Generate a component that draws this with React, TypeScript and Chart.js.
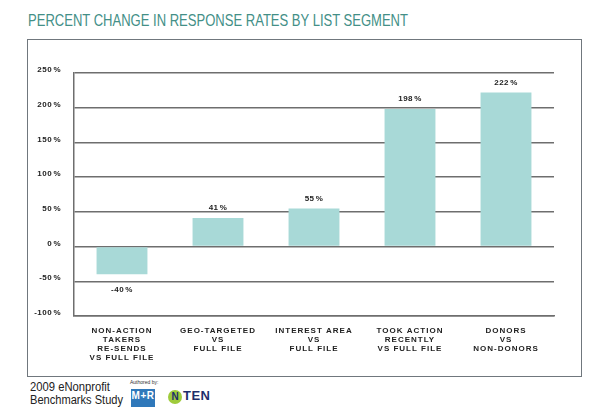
import React, { useEffect, useLayoutEffect, useRef } from "react";
import { Chart, registerables } from "chart.js";

Chart.register(...registerables);

const categories: string[][] = [
  ["NON-ACTION", "TAKERS", "RE-SENDS", "VS FULL FILE"],
  ["GEO-TARGETED", "VS", "FULL FILE"],
  ["INTEREST AREA", "VS", "FULL FILE"],
  ["TOOK ACTION", "RECENTLY", "VS FULL FILE"],
  ["DONORS", "VS", "NON-DONORS"],
];
const values: number[] = [-40, 41, 55, 198, 222];
const yTicks: number[] = [250, 200, 150, 100, 50, 0, -50, -100];

const TITLE = "PERCENT CHANGE IN RESPONSE RATES BY LIST SEGMENT";
const LABEL_FONT = "bold 8px 'Liberation Sans', Arial, sans-serif";

const labelPlugin = {
  id: "customLabels",
  afterDatasetsDraw(chart: any) {
    const ctx = chart.ctx as CanvasRenderingContext2D;
    const x = chart.scales.x;
    const y = chart.scales.y;
    ctx.save();
    (ctx as any).letterSpacing = "0.5px";
    ctx.font = LABEL_FONT;
    ctx.fillStyle = "#222";
    // y tick labels
    ctx.textAlign = "right";
    ctx.textBaseline = "middle";
    yTicks.forEach((v) => {
      const py = y.getPixelForValue(v);
      ctx.fillText(v + "\u200A%", y.right - 13, py - 3);
    });
    // value labels
    ctx.textAlign = "center";
    const meta = chart.getDatasetMeta(0);
    meta.data.forEach((bar: any, i: number) => {
      const v = values[i];
      const txt = v + "\u200A%";
      if (v >= 0) ctx.fillText(txt, bar.x, bar.y - 10);
      else ctx.fillText(txt, bar.x, bar.y + 15);
    });
    // category labels
    (ctx as any).letterSpacing = "1px";
    categories.forEach((lines, i) => {
      const px = x.getPixelForValue(i);
      lines.forEach((ln, j) => {
        ctx.fillText(ln, px, x.top + 15 + j * 9);
      });
    });
    ctx.restore();
  },
};

function useFitWidth(ref: React.RefObject<HTMLElement | null>, target: number) {
  useLayoutEffect(() => {
    const el = ref.current;
    if (el) {
      const w = el.getBoundingClientRect().width;
      if (w > 0) el.style.transform = `scaleX(${target / w})`;
    }
  }, []);
}

export default function App() {
  const canvasRef = useRef<HTMLCanvasElement | null>(null);
  const titleRef = useRef<HTMLSpanElement | null>(null);
  const foot1Ref = useRef<HTMLSpanElement | null>(null);
  const foot2Ref = useRef<HTMLSpanElement | null>(null);
  useFitWidth(titleRef, 380);
  useFitWidth(foot1Ref, 80);
  useFitWidth(foot2Ref, 93);

  useEffect(() => {
    if (!canvasRef.current) return;
    const chart = new Chart(canvasRef.current, {
      type: "bar",
      data: {
        labels: categories.map((c) => c.join(" ")),
        datasets: [
          {
            data: values,
            backgroundColor: "#a8d9d7",
            borderWidth: 0,
            barPercentage: 0.53,
            categoryPercentage: 1,
          },
        ],
      },
      options: {
        animation: false,
        responsive: false,
        devicePixelRatio: 1,
        layout: { padding: { left: 0, right: 26, top: 33, bottom: 0 } },
        plugins: {
          legend: { display: false },
          tooltip: { enabled: false },
          title: { display: false },
        },
        scales: {
          x: {
            grid: { display: false },
            border: { display: true, color: "#6e6e6e", width: 1.5 },
            ticks: { display: false },
            afterFit: (s: any) => {
              s.height = 59;
            },
          },
          y: {
            min: -100,
            max: 250,
            ticks: { display: false, stepSize: 50 },
            grid: { color: "#6e6e6e", lineWidth: 1.5, drawTicks: false },
            border: { display: true, color: "#6e6e6e", width: 1.5 },
            afterFit: (s: any) => {
              s.width = 46;
            },
          },
        },
      },
      plugins: [labelPlugin],
    });
    return () => chart.destroy();
  }, []);

  const footStyle: React.CSSProperties = {
    display: "inline-block",
    transformOrigin: "left center",
  };

  return (
    <div
      style={{
        position: "fixed",
        left: 0,
        top: 0,
        width: 600,
        height: 409,
        background: "#fff",
        overflow: "hidden",
      }}
    >
      <div
        style={{
          position: "absolute",
          left: 28,
          top: 12,
          whiteSpace: "nowrap",
          fontFamily: "'Liberation Sans', Arial, sans-serif",
          fontWeight: 400,
          fontSize: 17,
          lineHeight: "17px",
          color: "#438f87",
        }}
      >
        <span
          ref={titleRef}
          style={{ display: "inline-block", transformOrigin: "left center" }}
        >
          {TITLE}
        </span>
      </div>
      <div
        style={{
          position: "absolute",
          left: 27,
          top: 39,
          width: 555,
          height: 338,
          border: "1px solid #70777d",
          boxSizing: "border-box",
        }}
      />
      <canvas
        ref={canvasRef}
        width={552}
        height={335}
        style={{ position: "absolute", left: 28, top: 40, width: 552, height: 335 }}
      />
      <div
        style={{
          position: "absolute",
          left: 30,
          top: 381,
          fontFamily: "'Liberation Sans', Arial, sans-serif",
          fontSize: 12,
          lineHeight: "13px",
          color: "#222",
          whiteSpace: "nowrap",
        }}
      >
        <div>
          <span ref={foot1Ref} style={footStyle}>2009 eNonprofit</span>
        </div>
        <div>
          <span ref={foot2Ref} style={footStyle}>Benchmarks Study</span>
        </div>
      </div>
      <div
        style={{
          position: "absolute",
          left: 130,
          top: 379,
          fontFamily: "'Liberation Sans', sans-serif",
          fontSize: 5,
          lineHeight: "6px",
          color: "#333",
          whiteSpace: "nowrap",
        }}
      >
        Authored by:
      </div>
      <div
        style={{
          position: "absolute",
          left: 131,
          top: 389,
          width: 24,
          height: 18,
          background: "#2f78ba",
          color: "#fff",
          fontFamily: "'Liberation Sans', sans-serif",
          fontWeight: 700,
          fontSize: 10,
          lineHeight: "13px",
          textAlign: "center",
          letterSpacing: "0.5px",
        }}
      >
        M+R
      </div>
      <div
        style={{
          position: "absolute",
          left: 168,
          top: 390,
          width: 14,
          height: 14,
          borderRadius: "50%",
          background: "#9fcb3b",
          color: "#1d2e6b",
          fontFamily: "'Liberation Sans', sans-serif",
          fontWeight: 700,
          fontSize: 10,
          lineHeight: "14px",
          textAlign: "center",
        }}
      >
        N
      </div>
      <div
        style={{
          position: "absolute",
          left: 183,
          top: 389,
          color: "#1d2e6b",
          fontFamily: "'Liberation Sans', sans-serif",
          fontWeight: 700,
          fontSize: 13,
          lineHeight: "14px",
          letterSpacing: "0.5px",
        }}
      >
        TEN
      </div>
    </div>
  );
}
